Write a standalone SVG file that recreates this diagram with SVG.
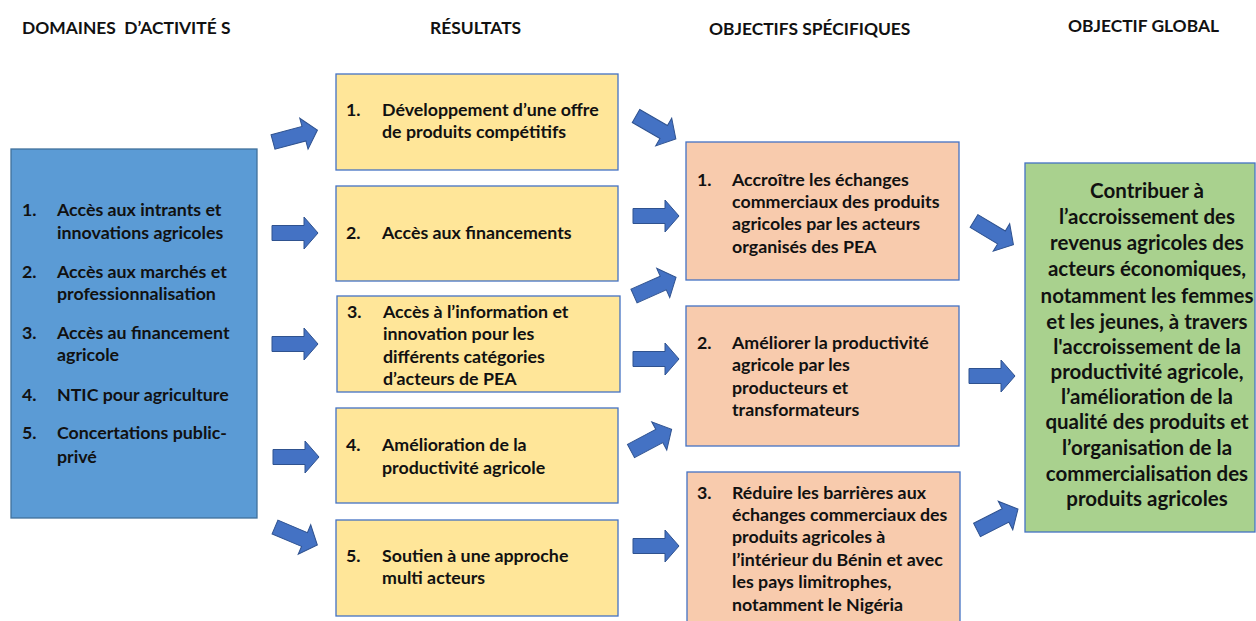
<svg xmlns="http://www.w3.org/2000/svg" xmlns:xlink="http://www.w3.org/1999/xlink" width="1256" height="621" viewBox="0 0 1256 621">
<defs>
<style>
text{font-family:Lato,"Open Sans","Liberation Sans",sans-serif;font-weight:bold;fill:#111;font-size:17.8px}
.hd{font-size:17.4px;white-space:pre}
.box{stroke:#4472C4;stroke-width:1.3}
.blue{fill:#5B9BD5;stroke:#41719C}
.yel{fill:#FFE699}
.sal{fill:#F8CBAD}
.grn{fill:#A9D18E}
.g{font-size:20.5px;text-anchor:middle}
.arr{fill:#4472C4;stroke:#2F528F;stroke-width:1}
</style>
<path id="arr" d="M0,-7.5 L32,-7.5 L32,-16 L46,0 L32,16 L32,7.5 L0,7.5 Z"/>
</defs>
<rect width="1256" height="621" fill="#fff"/>
<g id="headers">
<text class="hd" x="22" y="34">DOMAINES  D’ACTIVITÉ S</text>
<text class="hd" x="430" y="34">RÉSULTATS</text>
<text class="hd" x="709" y="35">OBJECTIFS SPÉCIFIQUES</text>
<text class="hd" x="1068" y="32">OBJECTIF GLOBAL</text>
</g>
<g id="domaines">
<rect class="box blue" x="11" y="149" width="246" height="369"/>
<text x="22" y="216">1.</text><text x="57" y="216">Accès aux intrants et</text>
<text x="57" y="239">innovations agricoles</text>
<text x="22" y="278">2.</text><text x="57" y="278">Accès aux marchés et</text>
<text x="57" y="300">professionnalisation</text>
<text x="22" y="339">3.</text><text x="57" y="339">Accès au financement</text>
<text x="57" y="361">agricole</text>
<text x="22" y="401">4.</text><text x="57" y="401">NTIC pour agriculture</text>
<text x="22" y="439">5.</text><text x="57" y="439">Concertations public-</text>
<text x="57" y="463">privé</text>
</g>
<g id="resultat1">
<rect class="box yel" x="336" y="74" width="282" height="96"/>
<text x="346" y="116">1.</text><text x="382" y="116">Développement d’une offre</text>
<text x="382" y="138">de produits compétitifs</text>
</g>
<g id="resultat2">
<rect class="box yel" x="336" y="186" width="282" height="95"/>
<text x="346" y="239">2.</text><text x="382" y="239">Accès aux financements</text>
</g>
<g id="resultat3">
<rect class="box yel" x="337" y="296" width="283" height="96"/>
<text x="347" y="318">3.</text><text x="383" y="318">Accès à l’information et</text>
<text x="383" y="340">innovation pour les</text>
<text x="383" y="363">différents catégories</text>
<text x="383" y="385">d’acteurs de PEA</text>
</g>
<g id="resultat4">
<rect class="box yel" x="336" y="408" width="282" height="95"/>
<text x="346" y="451">4.</text><text x="382" y="451">Amélioration de la</text>
<text x="382" y="474">productivité agricole</text>
</g>
<g id="resultat5">
<rect class="box yel" x="336" y="520" width="282" height="96"/>
<text x="346" y="562">5.</text><text x="382" y="562">Soutien à une approche</text>
<text x="382" y="584">multi acteurs</text>
</g>
<g id="objectif1">
<rect class="box sal" x="686" y="142" width="273" height="138"/>
<text x="697" y="186">1.</text><text x="732" y="186">Accroître les échanges</text>
<text x="732" y="208">commerciaux des produits</text>
<text x="732" y="230">agricoles par les acteurs</text>
<text x="732" y="253">organisés des PEA</text>
</g>
<g id="objectif2">
<rect class="box sal" x="686" y="306" width="273" height="140"/>
<text x="697" y="349">2.</text><text x="732" y="349">Améliorer la productivité</text>
<text x="732" y="371">agricole par les</text>
<text x="732" y="394">producteurs et</text>
<text x="732" y="416">transformateurs</text>
</g>
<g id="objectif3">
<rect class="box sal" x="687" y="472" width="273" height="160"/>
<text x="697" y="499">3.</text><text x="732" y="499">Réduire les barrières aux</text>
<text x="732" y="521">échanges commerciaux des</text>
<text x="732" y="543">produits agricoles à</text>
<text x="732" y="566">l’intérieur du Bénin et avec</text>
<text x="732" y="588">les pays limitrophes,</text>
<text x="732" y="611">notamment le Nigéria</text>
</g>
<g id="objectif-global">
<rect class="box grn" x="1025" y="163" width="230" height="369"/>
<text class="g" x="1147" y="198">Contribuer à</text>
<text class="g" x="1147" y="224">l’accroissement des</text>
<text class="g" x="1147" y="250">revenus agricoles des</text>
<text class="g" x="1147" y="276">acteurs économiques,</text>
<text class="g" x="1147" y="303">notamment les femmes</text>
<text class="g" x="1147" y="329">et les jeunes, à travers</text>
<text class="g" x="1147" y="354">l'accroissement de la</text>
<text class="g" x="1147" y="379">productivité agricole,</text>
<text class="g" x="1147" y="404">l’amélioration de la</text>
<text class="g" x="1147" y="429">qualité des produits et</text>
<text class="g" x="1147" y="455">l’organisation de la</text>
<text class="g" x="1147" y="481">commercialisation des</text>
<text class="g" x="1147" y="506">produits agricoles</text>
</g>
<g id="connectors" class="arr">
<use xlink:href="#arr" transform="translate(273,142) rotate(-15)"/>
<use xlink:href="#arr" transform="translate(272,233)"/>
<use xlink:href="#arr" transform="translate(272,344)"/>
<use xlink:href="#arr" transform="translate(273,457)"/>
<use xlink:href="#arr" transform="translate(275,527) rotate(23)"/>
<use xlink:href="#arr" transform="translate(636,116) rotate(30)"/>
<use xlink:href="#arr" transform="translate(633,216)"/>
<use xlink:href="#arr" transform="translate(634,296) rotate(-24)"/>
<use xlink:href="#arr" transform="translate(633,359)"/>
<use xlink:href="#arr" transform="translate(631,451) rotate(-28)"/>
<use xlink:href="#arr" transform="translate(633,546)"/>
<use xlink:href="#arr" transform="translate(974,221) rotate(31)"/>
<use xlink:href="#arr" transform="translate(969,376)"/>
<use xlink:href="#arr" transform="translate(977,530) rotate(-27)"/>
</g>
</svg>
